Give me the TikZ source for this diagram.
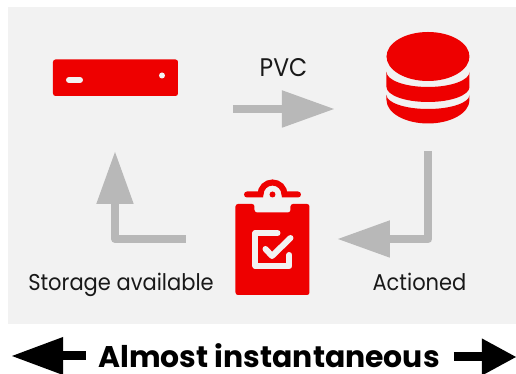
\documentclass[tikz,border=0pt]{standalone}
\usepackage{fontspec}
\setmainfont{Poppins}
\newfontfamily\labelfont{Poppins}[FakeStretch=.92]
\usetikzlibrary{arrows.meta}
\definecolor{panelgray}{HTML}{F2F2F2}
\definecolor{flowgray}{HTML}{B8B8B8}
\definecolor{iconred}{HTML}{EE0000}
\tikzset{
  flow/.style={draw=flowgray,line width=.16cm,line join=round,-{Triangle[length=1.04cm,width=.75cm,line width=0pt]}},
  span/.style={draw=black,line width=.18cm},
  cutout/.style={draw=panelgray,line width=.12cm,line cap=round,line join=round},
  label/.style={inner sep=0pt,text=black!90,font=\labelfont\fontsize{13}{16}\selectfont},
}
\begin{document}
\begin{tikzpicture}
  \useasboundingbox (0,0) rectangle (10.32,7.48);
  % panel
  \fill [panelgray](.16,1) rectangle (10.32,7.34);
  % server
  \fill [iconred,rounded corners=.05cm](1.06,5.56) rectangle (3.56,6.29);
  \draw [cutout](1.38,5.88) -- (1.60,5.88);
  \fill [panelgray](3.24,5.97) circle (.06);
  % database
  \fill [iconred](8.56,6.35) ellipse [x radius=.83,y radius=.49];
  \fill [iconred](7.73,6.04) arc [start angle=180,end angle=360,x radius=.83,y radius=.30]
    -- (9.39,5.74) arc [start angle=0,end angle=-180,x radius=.83,y radius=.30] -- cycle;
  \fill [iconred](7.73,5.58) arc [start angle=180,end angle=360,x radius=.83,y radius=.28]
    -- (9.39,5.48) arc [start angle=0,end angle=-180,x radius=.83,y radius=.47] -- cycle;
  % clipboard
  \fill [iconred,rounded corners=.05cm](4.71,1.58) -- (4.71,3.40) -- (5.09,3.40) -- (5.09,3.23)
    -- (5.81,3.23) -- (5.81,3.40) -- (6.19,3.40) -- (6.19,1.58) -- cycle;
  \draw [iconred,line width=.12cm,line cap=round](4.94,3.59) -- (5.21,3.59)
    arc [start angle=180,end angle=0,radius=.24] -- (5.96,3.59);
  \fill [iconred](5.45,3.59) circle (.06);
  \draw [cutout](5.55,2.82) -- (5.11,2.82) -- (5.11,2.16) -- (5.79,2.16) -- (5.79,2.38);
  \draw [cutout](5.31,2.50) -- (5.44,2.36) -- (5.81,2.72);
  % flow arrows
  \coordinate (pvcstart) at (4.66,5.30);
  \coordinate (pvcend) at (6.68,5.30);
  \coordinate (actstart) at (8.57,4.46);
  \coordinate (actend) at (6.76,2.70);
  \coordinate (availstart) at (3.72,2.70);
  \coordinate (availend) at (2.30,4.44);
  \draw [flow](pvcstart) -- (pvcend);
  \draw [flow](actstart) |- (actend);
  \draw [flow](availstart) -| (availend);
  % labels
  \node [label,font=\labelfont\fontsize{14.5}{17}\selectfont] (pvc) at(5.67,6.12){PVC};
  \node [label] (actioned) at(8.39,1.85){Actioned};
  \node [label] (available) at(2.42,1.79){Storage available};
  % timespan
  \node [inner sep=0pt,font=\fontsize{17}{20}\bfseries\selectfont] (span) at(5.38,.37){Almost instantaneous};
  \coordinate (leftend) at (.24,.36);
  \coordinate (leftstart) at (1.71,.36);
  \coordinate (rightstart) at (9.08,.34);
  \coordinate (rightend) at (10.32,.34);
  \draw [span,-{Triangle[length=1.02cm,width=.76cm,line width=0pt]}](leftstart) -- (leftend);
  \draw [span,-{Triangle[length=.68cm,width=.74cm,line width=0pt]}](rightstart) -- (rightend);
\end{tikzpicture}
\end{document}
